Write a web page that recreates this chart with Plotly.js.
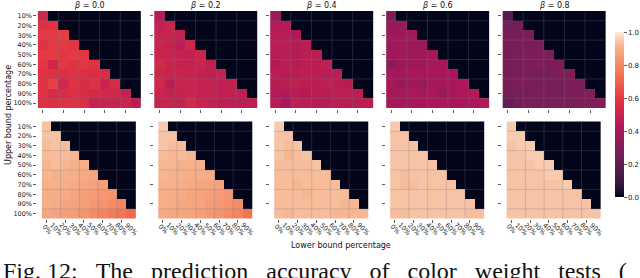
<!DOCTYPE html>
<html>
<head>
<meta charset="utf-8">
<script src="https://cdn.plot.ly/plotly-3.0.1.min.js"></script>
<style>
html,body{margin:0;padding:0;background:#fff;}
#chart{width:640px;height:278px;}
</style>
</head>
<body>
<div id="chart"></div>
<script>
// ---------- data ----------
const upperLabels = ['10%','20%','30%','40%','50%','60%','70%','80%','90%','100%'];
const lowerLabels = ['0%','10%','20%','30%','40%','50%','60%','70%','80%','90%'];
const betaLabels = ['0.0','0.2','0.4','0.6','0.8'];

// top row (one list per upper bound, one value per valid lower bound)
const topBeta00 = [
  [0.52],
  [0.57,0.58],
  [0.60,0.60,0.61],
  [0.58,0.60,0.60,0.59],
  [0.60,0.60,0.59,0.60,0.59],
  [0.59,0.52,0.59,0.58,0.59,0.58],
  [0.58,0.57,0.56,0.57,0.56,0.55,0.55],
  [0.58,0.62,0.52,0.58,0.55,0.57,0.50,0.54],
  [0.57,0.54,0.55,0.56,0.55,0.53,0.53,0.52,0.49],
  [0.57,0.56,0.57,0.57,0.56,0.49,0.50,0.49,0.50,0.46]
];
const topBeta02 = [
  [0.45],
  [0.48,0.50],
  [0.50,0.50,0.48],
  [0.50,0.49,0.46,0.52],
  [0.50,0.50,0.49,0.48,0.50],
  [0.53,0.50,0.49,0.48,0.50,0.47],
  [0.51,0.50,0.50,0.49,0.48,0.47,0.49],
  [0.52,0.46,0.50,0.50,0.49,0.48,0.47,0.48],
  [0.50,0.49,0.48,0.50,0.48,0.49,0.47,0.48,0.47],
  [0.49,0.50,0.48,0.53,0.50,0.48,0.47,0.47,0.46,0.46]
];
const topBeta04 = [
  [0.38],
  [0.44,0.44],
  [0.45,0.45,0.42],
  [0.46,0.46,0.45,0.46],
  [0.45,0.45,0.44,0.46,0.46],
  [0.43,0.46,0.45,0.46,0.46,0.47],
  [0.46,0.45,0.46,0.47,0.46,0.45,0.46],
  [0.45,0.46,0.47,0.46,0.46,0.47,0.46,0.45],
  [0.44,0.43,0.45,0.44,0.46,0.45,0.46,0.47,0.46],
  [0.45,0.41,0.47,0.46,0.45,0.45,0.46,0.45,0.46,0.46]
];
const topBeta06 = [
  [0.30],
  [0.35,0.36],
  [0.38,0.38,0.40],
  [0.38,0.39,0.38,0.37],
  [0.38,0.39,0.37,0.38,0.40],
  [0.33,0.37,0.38,0.38,0.40,0.40],
  [0.40,0.39,0.40,0.40,0.41,0.41,0.41],
  [0.40,0.37,0.39,0.36,0.40,0.40,0.41,0.42],
  [0.40,0.40,0.42,0.40,0.40,0.36,0.40,0.42,0.43],
  [0.40,0.40,0.41,0.41,0.41,0.41,0.41,0.41,0.42,0.43]
];
const topBeta08 = [
  [0.18],
  [0.25,0.25],
  [0.27,0.27,0.28],
  [0.27,0.28,0.27,0.28],
  [0.27,0.28,0.29,0.28,0.29],
  [0.26,0.27,0.28,0.29,0.28,0.29],
  [0.27,0.28,0.28,0.27,0.28,0.29,0.29],
  [0.27,0.29,0.28,0.27,0.28,0.28,0.29,0.29],
  [0.25,0.27,0.27,0.28,0.28,0.27,0.28,0.29,0.30],
  [0.22,0.27,0.28,0.27,0.28,0.28,0.28,0.29,0.29,0.30]
];

// bottom row
const botBeta00 = [
  [0.94],
  [0.94,0.94],
  [0.93,0.94,0.93],
  [0.93,0.93,0.93,0.92],
  [0.92,0.93,0.92,0.91,0.90],
  [0.92,0.91,0.91,0.90,0.89,0.88],
  [0.91,0.91,0.90,0.89,0.88,0.87,0.86],
  [0.90,0.90,0.89,0.88,0.86,0.85,0.84,0.83],
  [0.90,0.89,0.88,0.87,0.86,0.84,0.83,0.81,0.79],
  [0.88,0.87,0.86,0.85,0.83,0.81,0.79,0.77,0.75,0.72]
];
const botBeta02 = [
  [0.95],
  [0.94,0.94],
  [0.94,0.93,0.93],
  [0.93,0.92,0.93,0.92],
  [0.92,0.92,0.91,0.91,0.91],
  [0.92,0.91,0.91,0.90,0.90,0.89],
  [0.91,0.91,0.90,0.89,0.88,0.88,0.87],
  [0.90,0.90,0.89,0.88,0.87,0.86,0.85,0.84],
  [0.90,0.89,0.88,0.88,0.87,0.85,0.84,0.83,0.81],
  [0.89,0.88,0.88,0.87,0.86,0.84,0.83,0.81,0.79,0.75]
];
const botBeta04 = [
  [0.95],
  [0.94,0.94],
  [0.94,0.93,0.94],
  [0.94,0.92,0.93,0.94],
  [0.93,0.93,0.93,0.93,0.94],
  [0.93,0.93,0.93,0.93,0.93,0.93],
  [0.93,0.93,0.92,0.93,0.93,0.93,0.93],
  [0.93,0.93,0.93,0.92,0.93,0.93,0.93,0.93],
  [0.93,0.93,0.93,0.93,0.93,0.93,0.93,0.92,0.92],
  [0.93,0.92,0.93,0.93,0.93,0.93,0.92,0.92,0.92,0.92]
];
const botBeta06 = [
  [0.95],
  [0.94,0.94],
  [0.94,0.94,0.94],
  [0.94,0.94,0.94,0.94],
  [0.94,0.94,0.94,0.94,0.94],
  [0.94,0.93,0.94,0.94,0.94,0.94],
  [0.94,0.93,0.93,0.94,0.94,0.94,0.94],
  [0.94,0.94,0.94,0.94,0.94,0.94,0.94,0.94],
  [0.94,0.94,0.94,0.94,0.94,0.94,0.94,0.94,0.94],
  [0.93,0.93,0.94,0.94,0.94,0.94,0.94,0.94,0.93,0.93]
];
const botBeta08 = [
  [0.95],
  [0.95,0.95],
  [0.94,0.95,0.95],
  [0.94,0.94,0.95,0.95],
  [0.94,0.94,0.94,0.95,0.95],
  [0.94,0.94,0.94,0.94,0.95,0.95],
  [0.94,0.94,0.94,0.94,0.94,0.94,0.95],
  [0.94,0.94,0.94,0.94,0.94,0.94,0.94,0.94],
  [0.94,0.94,0.94,0.94,0.94,0.94,0.94,0.94,0.94],
  [0.94,0.94,0.94,0.94,0.94,0.94,0.94,0.94,0.94,0.94]
];

const topRow = [topBeta00, topBeta02, topBeta04, topBeta06, topBeta08];
const botRow = [botBeta00, botBeta02, botBeta04, botBeta06, botBeta08];

// ---------- styling ----------
const W = 640, H = 278;
const rocket = [
  [0.0, '#03051A'], [0.083, '#35193E'], [0.25, '#701F57'], [0.417, '#AD1759'],
  [0.583, '#E13342'], [0.75, '#F37651'], [0.917, '#F6B48F'], [1.0, '#FAEBDD']
];
const panelLeft = [37.5, 154.5, 271, 387.5, 504.5];
const panelW = 104.5;
const rowTop = [10.5, 121];
const panelH = 98;
const font = 'DejaVu Sans, sans-serif';

function fullMatrix(rows) {
  return upperLabels.map((u, i) => lowerLabels.map((l, j) => (j < rows[i].length ? rows[i][j] : 0)));
}

const data = [];
const layout = {
  width: W, height: H,
  margin: {l: 0, r: 0, t: 0, b: 0},
  paper_bgcolor: '#fff', plot_bgcolor: '#fff',
  showlegend: false,
  font: {family: font, size: 7, color: '#222'},
  annotations: [], shapes: []
};

let n = 0;
[topRow, botRow].forEach((row, r) => {
  row.forEach((vals, c) => {
    n++;
    const xa = 'xaxis' + (n === 1 ? '' : n), ya = 'yaxis' + (n === 1 ? '' : n);
    const xr = 'x' + (n === 1 ? '' : n), yr = 'y' + (n === 1 ? '' : n);
    data.push({
      type: 'heatmap', x: lowerLabels, y: upperLabels, z: fullMatrix(vals),
      xaxis: xr, yaxis: yr, zmin: 0, zmax: 1, colorscale: rocket,
      showscale: n === 1, xgap: 0, ygap: 0, hoverinfo: 'skip',
      colorbar: {
        x: 618 / W, xanchor: 'left', xpad: 0,
        y: 1 - 115 / H, yanchor: 'middle', ypad: 0,
        len: 165, lenmode: 'pixels', thickness: 9, thicknessmode: 'pixels',
        outlinewidth: 0, tickvals: [0, 0.2, 0.4, 0.6, 0.8, 1.0],
        ticktext: ['0.0', '0.2', '0.4', '0.6', '0.8', '1.0'],
        ticks: 'outside', ticklen: 3, tickwidth: 0.8, tickcolor: '#333',
        tickfont: {family: font, size: 7, color: '#222'}
      }
    });
    const x0 = panelLeft[c], y0 = rowTop[r];
    layout[xa] = {
      domain: [x0 / W, (x0 + panelW) / W], anchor: yr, type: 'category',
      showgrid: false, zeroline: false, showline: false,
      ticks: 'outside', ticklen: 3, tickwidth: 0.8, tickcolor: '#333',
      showticklabels: false, fixedrange: true
    };
    layout[ya] = {
      domain: [1 - (y0 + panelH) / H, 1 - y0 / H], anchor: xr, type: 'category',
      autorange: 'reversed', showgrid: false, zeroline: false, showline: false,
      ticks: 'outside', ticklen: 3, tickwidth: 0.8, tickcolor: '#333',
      showticklabels: c === 0,
      tickfont: {family: font, size: 6.5, color: '#222'}, fixedrange: true
    };
    // faint seams
    [1.5, 3.5, 5.5, 7.5].forEach(v => layout.shapes.push({
      type: 'line', xref: xr, yref: yr, x0: v, x1: v, y0: -0.5, y1: 9.5,
      line: {color: 'rgba(120,120,135,0.28)', width: 1}, layer: 'above'
    }));
    [0.5, 2.5, 4.5, 6.5, 8.5].forEach(v => layout.shapes.push({
      type: 'line', xref: xr, yref: yr, x0: -0.5, x1: 9.5, y0: v, y1: v,
      line: {color: 'rgba(120,120,135,0.28)', width: 1}, layer: 'above'
    }));
    if (r === 0) {
      layout.annotations.push({
        xref: 'paper', yref: 'paper', x: (x0 + panelW / 2) / W, y: 1 - 5 / H,
        text: '<i>β</i> = ' + betaLabels[c], showarrow: false,
        xanchor: 'center', yanchor: 'middle',
        font: {family: font, size: 8, color: '#111'}
      });
    } else {
      // rotated lower-bound tick labels, centred under each tick
      lowerLabels.forEach(lab => layout.annotations.push({
        xref: xr, yref: 'paper', x: lab, y: 1 - 229 / H,
        text: lab, showarrow: false, textangle: 45,
        xanchor: 'center', yanchor: 'middle',
        font: {family: font, size: 6.5, color: '#222'}
      }));
    }
  });
});

layout.annotations.push({
  xref: 'paper', yref: 'paper', x: 8 / W, y: 1 - 115 / H, textangle: -90,
  text: 'Upper bound percentage', showarrow: false, xanchor: 'center', yanchor: 'middle',
  font: {family: font, size: 8, color: '#111'}
});
layout.annotations.push({
  xref: 'paper', yref: 'paper', x: 343 / W, y: 1 - 245 / H,
  text: 'Lower bound percentage', showarrow: false, xanchor: 'center', yanchor: 'middle',
  font: {family: font, size: 8, color: '#111'}
});
const sp = '\u00A0\u00A0\u00A0';
layout.annotations.push({
  xref: 'paper', yref: 'paper', x: 1 / W, y: 1 - 256 / H,
  text: ['Fig.\u00A012:', 'The', 'prediction', 'accuracy', 'of', 'color', 'weight', 'tests', '('].join(sp),
  showarrow: false, xanchor: 'left', yanchor: 'top',
  font: {family: 'Liberation Serif, serif', size: 24, color: '#111'}
});

Plotly.newPlot('chart', data, layout, {staticPlot: true, displayModeBar: false});
</script>
</body>
</html>
